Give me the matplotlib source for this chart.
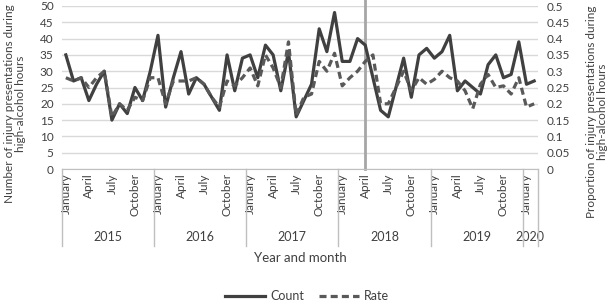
import matplotlib
matplotlib.use("Agg")
import matplotlib.pyplot as plt
import matplotlib.transforms as mtransforms
from matplotlib.lines import Line2D

plt.rcParams["font.family"] = ["Lato", "DejaVu Sans"]

# monthly series, January 2015 .. February 2020
years = [2015, 2016, 2017, 2018, 2019, 2020]
months_per_year = [12, 12, 12, 12, 12, 2]
month_names = ["January", "February", "March", "April", "May", "June", "July",
               "August", "September", "October", "November", "December"]
shown_months = ["January", "April", "July", "October"]

count = [35, 27, 28, 21, 26, 30, 15, 20, 17, 25, 21, 30,
         41, 19, 28, 36, 23, 28, 26, 22, 18, 35, 24, 34,
         35, 28, 38, 35, 24, 36, 16, 21, 26, 43, 36, 48,
         33, 33, 40, 38, 28, 18, 16, 25, 34, 22, 35, 37,
         34, 36, 41, 24, 27, 25, 23, 32, 35, 28, 29, 39,
         26, 27]
rate = [0.28, 0.27, 0.28, 0.25, 0.28, 0.30, 0.16, 0.20, 0.18, 0.22, 0.21, 0.28,
        0.28, 0.20, 0.27, 0.27, 0.27, 0.28, 0.26, 0.22, 0.19, 0.27, 0.255, 0.28,
        0.31, 0.255, 0.35, 0.31, 0.25, 0.39, 0.165, 0.22, 0.23, 0.33, 0.30, 0.355,
        0.255, 0.28, 0.30, 0.33, 0.35, 0.20, 0.20, 0.25, 0.30, 0.24, 0.28, 0.26,
        0.275, 0.30, 0.28, 0.27, 0.24, 0.185, 0.26, 0.29, 0.25, 0.255, 0.23, 0.28,
        0.19, 0.20]
marker_index = 39  # April 2018

labels = []
for y, nm in zip(years, months_per_year):
    labels += month_names[:nm]
x = list(range(len(count)))

W, H = 614, 304
fig = plt.figure(figsize=(W / 100, H / 100), dpi=100)
L, R, T, B = 62, 538, 6, 169
ax = fig.add_axes([L / W, 1 - B / H, (R - L) / W, (B - T) / H])
ax2 = ax.twinx()

txt_c = "#404040"
grid_c = "#d9d9d9"
ax.set_xlim(-0.5, len(count) - 0.5)
ax.set_ylim(0, 50)
ax2.set_ylim(0, 0.5)
ax.set_yticks(range(0, 51, 5))
ax2.set_yticks([i * 0.05 for i in range(11)])
ax2.set_yticklabels([f"{round(i * 0.05, 2):g}" for i in range(11)])
ax.yaxis.grid(True, color=grid_c, lw=1)
ax.set_axisbelow(True)
for a in (ax, ax2):
    for s in a.spines.values():
        s.set_visible(False)
    a.tick_params(axis="y", length=0, labelsize=8.5, colors=txt_c, pad=6)
ax.spines["bottom"].set_visible(True)
ax.spines["bottom"].set_color("#bfbfbf")

ax.axvline(marker_index, ymin=0, ymax=B / (B - T), color="#a6a6a6", lw=2,
           clip_on=False, zorder=1)

ax.plot(x, count, color="#404040", lw=2.3, zorder=3)
ax2.plot(x, rate, color="#595959", lw=2.3, ls=(0, (2.2, 1.3)), zorder=3)

tick_pos = [i for i, m in enumerate(labels) if m in shown_months]
ax.set_xticks(tick_pos)
ax.set_xticklabels([labels[i] for i in tick_pos], rotation=90, fontsize=8.5,
                   color=txt_c, va="top", ha="center")
ax.tick_params(axis="x", length=0, pad=3)

# year level of the category axis
tr = mtransforms.blended_transform_factory(ax.transData, fig.transFigure)
start = -0.5
bounds = [start]
for y, nm in zip(years, months_per_year):
    ax.text(start + nm / 2, 1 - 237 / H, str(y), transform=tr, ha="center",
            va="center", fontsize=9, color=txt_c)
    start += nm
    bounds.append(start)
for b in bounds:
    fig.add_artist(Line2D([b, b], [1 - B / H, 1 - 246 / H], transform=tr,
                          color="#bfbfbf", lw=1))

fig.text((L + R) / 2 / W, 1 - 258 / H, "Year and month", ha="center",
         va="center", fontsize=9.5, color=txt_c)
fig.text(15 / W, 1 - 104 / H,
         "Number of injury presentations during\nhigh-alcohol hours",
         rotation=90, ha="center", va="center", fontsize=8.5, color=txt_c,
         multialignment="center", linespacing=1.1)
fig.text(597 / W, 1 - 112 / H,
         "Proportion of injury presentations during\nhigh-alcohol hours",
         rotation=90, ha="center", va="center", fontsize=8.5, color=txt_c,
         multialignment="center", linespacing=1.1)

handles = [Line2D([], [], color="#404040", lw=2.3),
           Line2D([], [], color="#595959", lw=2.3, ls=(0, (2.2, 1.3)))]
fig.legend(handles, ["Count", "Rate"], loc="center", ncol=2, frameon=False,
           bbox_to_anchor=(307 / W, 1 - 296 / H), fontsize=9,
           handlelength=3.2, columnspacing=1.2, handletextpad=0.4,
           labelcolor=txt_c)

fig.savefig("out.png", dpi=100)
